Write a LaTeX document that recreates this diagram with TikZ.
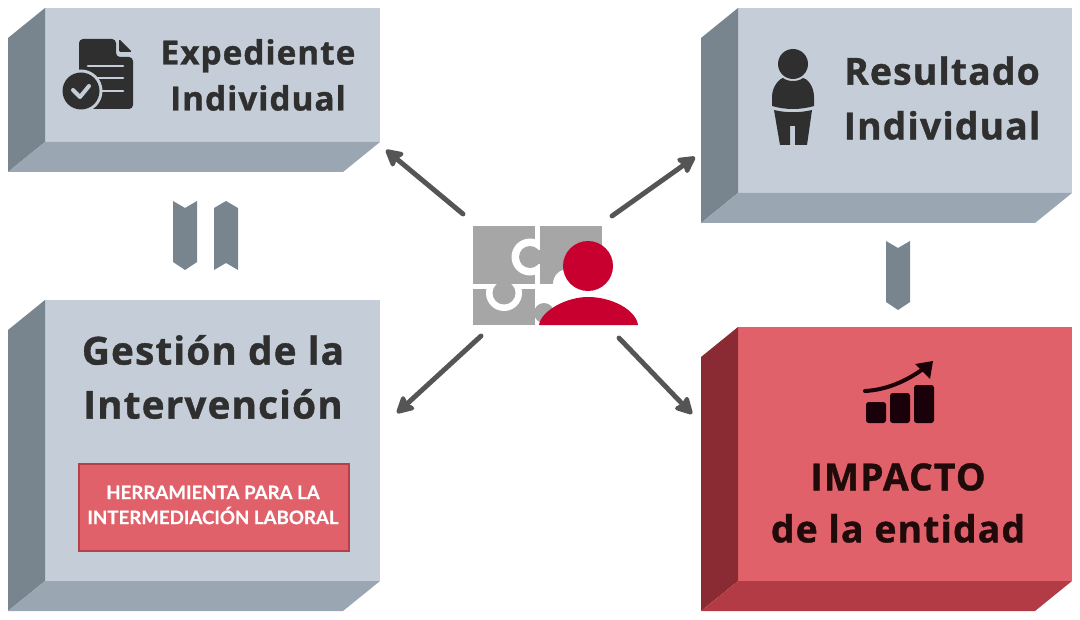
\documentclass[tikz,border=0pt]{standalone}
\usepackage{fontspec}
\setmainfont{Open Sans}
\newfontfamily\headfont{Open Sans}[BoldFeatures={FakeBold=1,LetterSpace=3}]
\newfontfamily\latofont{Lato}[BoldFeatures={FakeBold=.4}]
\usetikzlibrary{arrows.meta,calc}
\definecolor{slatefront}{HTML}{C5CED8}
\definecolor{slateleft}{HTML}{78858F}
\definecolor{slatebottom}{HTML}{9AA6B1}
\definecolor{redfront}{HTML}{E1616B}
\definecolor{redleft}{HTML}{8A2A32}
\definecolor{redbottom}{HTML}{B33B46}
\definecolor{redborder}{HTML}{B5404A}
\definecolor{darktext}{HTML}{2F2F2F}
\definecolor{impacttext}{HTML}{210A0A}
\definecolor{charticon}{HTML}{1A0008}
\definecolor{arrowgray}{HTML}{555555}
\definecolor{puzzlegray}{HTML}{A6A6A6}
\definecolor{personred}{HTML}{C8002F}
\tikzset{
  front/.style n args={3}{fill=#1,inner sep=0pt,outer sep=0pt,minimum width=#2*.75pt,minimum height=#3*.75pt},
  label/.style n args={3}{text=#1,align=center,inner sep=0pt,font=\headfont\bfseries\fontsize{#2}{#3}\selectfont},
  link/.style={draw=arrowgray,line width=3.7pt,line cap=round,-{Stealth[length=15pt,width=16pt,inset=2.5pt,round]}},
  band/.style={fill=slateleft}
}
\newcommand{\boxsides}[3]{%
  \fill[#2] (#1.north west) -- ++(-37,30) -- ($(#1.south west)+(-37,30)$) -- (#1.south west) -- cycle;
  \fill[#3] (#1.south west) -- ++(-37,30) -- ($(#1.south east)+(-37,30)$) -- (#1.south east) -- cycle;}
\begin{document}
\begin{tikzpicture}[x=.75pt,y=-.75pt]
  \useasboundingbox (0,0) rectangle (1080,620);
  \node[front={slatefront}{335}{134}] (exped) at (212.5,75) {};
  \node[front={slatefront}{334}{185}] (result) at (905,100.5) {};
  \node[front={slatefront}{335}{281}] (gestion) at (212.5,440.5) {};
  \node[front={redfront}{334}{254}] (impact) at (905,454) {};
  \boxsides{exped}{slateleft}{slatebottom}
  \boxsides{result}{slateleft}{slatebottom}
  \boxsides{gestion}{slateleft}{slatebottom}
  \boxsides{impact}{redleft}{redbottom}
  \node[label={darktext}{25}{34.5}] (expedtext) at (258,75) {Expediente\\Individual};
  \node[label={darktext}{28}{41}] (resulttext) at (942,98) {Resultado\\Individual};
  \node[label={darktext}{29}{40.5}] (gestiontext) at (213,377) {Gestión de la\\Intervención};
  \node[label={impacttext}{28}{39}] (impacttext) at (898,503) {IMPACTO\\de la entidad};
  \node[fill=redfront,draw=redborder,line width=1.5pt,minimum width=270*.75pt,minimum height=87*.75pt,inner sep=0pt] (tool) at (213.5,507) {};
  \node[text=white,align=center,inner sep=0pt,font=\latofont\bfseries\fontsize{14}{18.7}\selectfont] (tooltext) at (213,505) {HERRAMIENTA PARA LA\\INTERMEDIACIÓN LABORAL};
  % bands
  \foreach \x/\y in {185/201,898/241}
    \fill[band] (\x-12,\y) -- (\x,\y+7) -- (\x+12,\y) -- (\x+12,\y+61) -- (\x,\y+69) -- (\x-12,\y+61) -- cycle;
  \fill[band] (214,208) -- (226,201) -- (238,208) -- (238,270) -- (226,263) -- (214,270) -- cycle;
  % document icon
  \fill[darktext,rounded corners=3pt] (79,39) -- (116,39) -- (116,57) -- (133,57) -- (133,109) -- (79,109) -- cycle;
  \fill[darktext,rounded corners=1pt] (119,39) -- (132,52) -- (119,52) -- cycle;
  \foreach \y in {66,78,91}
    \draw[slatefront,line width=2.2pt,line cap=round] (88,\y) -- (123,\y);
  \fill[slatefront] (81,91) circle (21.5);
  \fill[darktext] (81,91) circle (18.5);
  \draw[slatefront,line width=3pt,line cap=round,line join=round] (73,90) -- (80,97) -- (89,86);
  % person icon
  \fill[darktext] (793,64) circle (15);
  \fill[darktext] (772,106) -- (772,97) .. controls (772,85) and (781,78) .. (783,78) .. controls (788,82) and (798,82) .. (803,78) .. controls (806,78) and (814,85) .. (814,97) -- (814,106) .. controls (800,110) and (786,110) .. (772,106) -- cycle;
  \fill[darktext] (774,110) .. controls (786,113) and (800,113) .. (812,110) -- (807,145) -- (795,145) -- (795,126) -- (790,126) -- (790,145) -- (780,145) -- cycle;
  % chart icon
  \foreach \l/\t in {866/402,890/393,914/385}
    \fill[charticon,rounded corners=2pt] (\l,\t) rectangle (\l+20,423);
  \draw[charticon,line width=3pt,line cap=round] (865,391) .. controls (885,390) and (905,382) .. (923,369);
  \fill[charticon] (933,361) -- (915,364) -- (930,379) -- cycle;
  % puzzle
  \fill[puzzlegray] (473,226) rectangle (535,284);
  \fill[puzzlegray] (540,226) rectangle (602,284);
  \fill[puzzlegray] (473,289) rectangle (535,325);
  \begin{scope}
    \clip (473,226) rectangle (535,284);
    \fill[white] (530,257) circle (18.5);
  \end{scope}
  \fill[puzzlegray] (530,257) circle (11);
  \fill[puzzlegray] (530,250) rectangle (541,264);
  \begin{scope}
    \clip (473,289) rectangle (535,325);
    \fill[white] (504,293) circle (18);
  \end{scope}
  \fill[puzzlegray] (504,293) circle (11.5);
  \fill[puzzlegray] (498,283) rectangle (510,293);
  \fill[puzzlegray] (544,313) circle (10);
  \fill[white] (568,284) circle (15);
  \fill[personred] (588,266) circle (25);
  \fill[personred] (539,325) .. controls (541,311) and (566,297) .. (588,297) .. controls (612,297) and (636,310) .. (638,325) -- cycle;
  % arrows
  \coordinate (tlfrom) at (463,214);
  \coordinate (tlto) at (386,150);
  \coordinate (trfrom) at (612,216);
  \coordinate (trto) at (695,157);
  \coordinate (blfrom) at (481,336);
  \coordinate (blto) at (397,413);
  \coordinate (brfrom) at (619,338);
  \coordinate (brto) at (692,414);
  \foreach \from/\to in {tlfrom/tlto,trfrom/trto,blfrom/blto,brfrom/brto}
    \draw[link] (\from) -- (\to);
\end{tikzpicture}
\end{document}
